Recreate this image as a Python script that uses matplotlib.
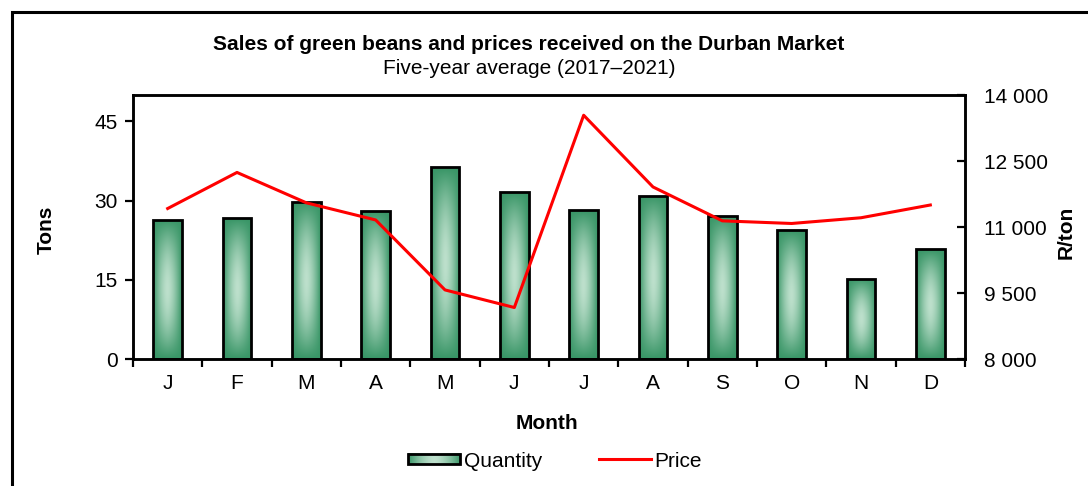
import numpy as np
import matplotlib
matplotlib.use("Agg")
import matplotlib.pyplot as plt
from matplotlib.patches import Rectangle
from matplotlib.legend_handler import HandlerBase
from matplotlib.image import BboxImage
from matplotlib.transforms import Bbox, TransformedBbox
from matplotlib.lines import Line2D
from matplotlib.colors import LinearSegmentedColormap

months = ["J", "F", "M", "A", "M", "J", "J", "A", "S", "O", "N", "D"]
quantity = [26.4, 26.7, 29.8, 28.1, 36.3, 31.7, 28.2, 30.9, 27.1, 24.4, 15.2, 20.8]
price = [11420, 12240, 11550, 11160, 9570, 9170, 13540, 11910, 11140, 11080, 11210, 11500]

plt.rcParams['font.family'] = ['Liberation Sans', 'DejaVu Sans']

W, H = 1088, 486
fig = plt.figure(figsize=(W / 100, H / 100), dpi=100)
ax = fig.add_axes([133 / W, (H - 359) / H, 832 / W, 264 / H])

dark = np.array([0x38, 0x95, 0x66]) / 255
light = np.array([0xbd, 0xe0, 0xcc]) / 255
cmap = LinearSegmentedColormap.from_list("g", [dark, light])

# 2-D gradient: light in the middle, dark at edges and ends
nx, ny = 64, 128
xx = np.linspace(-1, 1, nx)
yy = np.linspace(-1, 1, ny)
hx = 1 - np.abs(xx) ** 1.6
vy = 1 - np.abs(yy) ** 1.8
grad2d = np.outer(vy, hx)
grad_h = np.tile(hx, (8, 1))

FS = 15

x = np.arange(len(months))
bw = 0.41
bars = ax.bar(x, quantity, width=bw, facecolor='none', edgecolor='black',
              linewidth=2.0, zorder=3)
for b in bars:
    x0, y0 = b.get_x(), b.get_y()
    im = ax.imshow(grad2d, cmap=cmap, vmin=0, vmax=1, aspect='auto',
                   extent=(x0, x0 + b.get_width(), y0, y0 + b.get_height()),
                   origin='lower', zorder=2, interpolation='bilinear')
    im.set_clip_path(b)

ax.set_xlim(-0.5, len(months) - 0.5)
ax.set_ylim(0, 50)
ax.set_yticks([0, 15, 30, 45])
ax.set_xticks(x)
ax.set_xticklabels(months)
ax.set_xticks(np.arange(-0.5, len(months), 1), minor=True)
ax.tick_params(axis='x', which='major', length=0, pad=11, labelsize=FS)
ax.tick_params(axis='x', which='minor', length=6, width=1.6, direction='out')
ax.tick_params(axis='y', length=6, width=1.6, direction='out', labelsize=FS, pad=5)
for s in ax.spines.values():
    s.set_linewidth(1.8)

ax2 = ax.twinx()
ax2.plot(x, price, color='#ff0000', linewidth=2.2, zorder=4)
ax2.set_ylim(8000, 14000)
ax2.set_yticks([8000, 9500, 11000, 12500, 14000])
ax2.set_yticklabels(["8 000", "9 500", "11 000", "12 500", "14 000"])
ax2.tick_params(axis='y', length=6, width=1.6, direction='in', labelsize=FS, pad=14)
for s in ax2.spines.values():
    s.set_linewidth(1.8)

fig.text(529 / W, 1 - 44 / H, "Sales of green beans and prices received on the Durban Market",
         ha='center', va='center', fontsize=FS, fontweight='bold')
fig.text(529 / W, 1 - 68 / H, "Five-year average (2017\u20132021)",
         ha='center', va='center', fontsize=FS)
fig.text(46 / W, 1 - 230 / H, "Tons", rotation=90, ha='center', va='center',
         fontsize=FS, fontweight='bold')
fig.text(1066 / W, 1 - 232 / H, "R/ton", rotation=90, ha='center', va='center',
         fontsize=FS, fontweight='bold')
fig.text(547 / W, 1 - 423 / H, "Month", ha='center', va='center',
         fontsize=FS, fontweight='bold')


class GradHandler(HandlerBase):
    def create_artists(self, legend, orig_handle, xdescent, ydescent,
                       width, height, fontsize, trans):
        h = height * 0.7
        y0 = -ydescent + (height - h) / 2
        bb = TransformedBbox(Bbox.from_bounds(-xdescent, y0, width, h), trans)
        img = BboxImage(bb, cmap=cmap, norm=matplotlib.colors.Normalize(0, 1),
                        interpolation='bilinear')
        img.set_data(grad_h)
        rect = Rectangle((-xdescent, y0), width, h, facecolor='none',
                         edgecolor='black', linewidth=2.0, transform=trans)
        return [img, rect]


qty_proxy = Rectangle((0, 0), 1, 1)
price_proxy = Line2D([], [], color='#ff0000', linewidth=2.2)
fig.legend([qty_proxy, price_proxy], ["Quantity", "Price"],
           handler_map={Rectangle: GradHandler()},
           loc='center', bbox_to_anchor=(555 / W, 1 - 461 / H),
           ncol=2, frameon=False, fontsize=FS, handlelength=2.5,
           handletextpad=0.2, columnspacing=2.7)

frame = Rectangle((11.5 / W, -0.1), 1.2, 1 - 12.5 / H + 0.1, transform=fig.transFigure,
                  facecolor='none', edgecolor='black', linewidth=2.2)
fig.patches.append(frame)

fig.savefig("out.png", dpi=100)
